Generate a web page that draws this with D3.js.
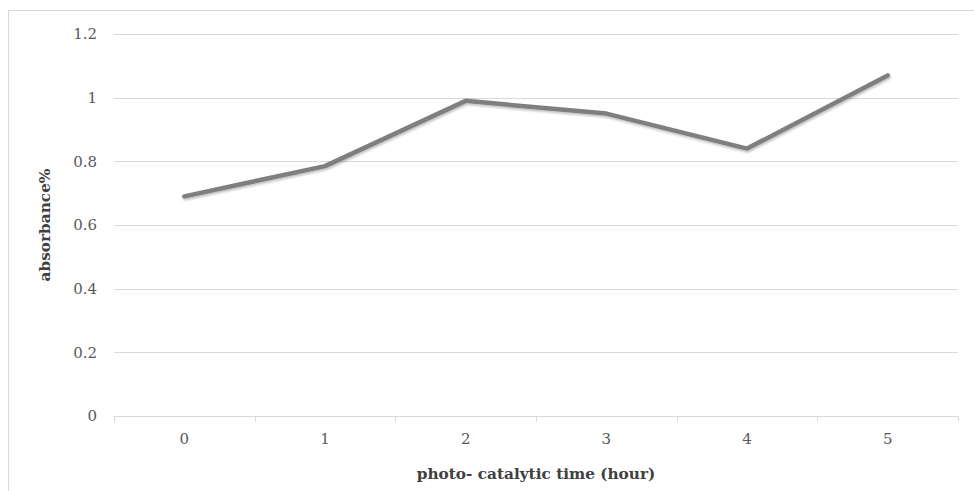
<!DOCTYPE html>
<html>
<head>
<meta charset="utf-8">
<script src="https://cdn.jsdelivr.net/npm/d3@7"></script>
<style>
  html, body { margin: 0; padding: 0; background: #fff; }
  svg { display: block; }
</style>
</head>
<body>
<svg id="chart" width="974" height="491"></svg>
<script>
// Absorbance measured over photo-catalytic time
const hours = ["0", "1", "2", "3", "4", "5"];
const absorbance = [0.69, 0.785, 0.99, 0.95, 0.84, 1.07];
const yTicks = [0, 0.2, 0.4, 0.6, 0.8, 1, 1.2];

const svg = d3.select("#chart");
const W = 974, H = 491;
const plot = { left: 114, right: 958, top: 34, bottom: 416 };
const fontFamily = "'DejaVu Serif', 'Liberation Serif', serif";

// chart frame
svg.append("rect")
  .attr("x", 8.5).attr("y", 10.5)
  .attr("width", W + 20).attr("height", H + 20)
  .attr("fill", "#fff").attr("stroke", "#d9d9d9").attr("stroke-width", 1);

const x = d3.scaleBand().domain(hours).range([plot.left, plot.right]).padding(0);
const y = d3.scaleLinear().domain([0, 1.2]).range([plot.bottom, plot.top]);

// horizontal gridlines
svg.append("g")
  .selectAll("line")
  .data(yTicks.filter(d => d > 0))
  .join("line")
  .attr("x1", plot.left).attr("x2", plot.right)
  .attr("y1", d => Math.round(y(d)) + 0.5).attr("y2", d => Math.round(y(d)) + 0.5)
  .attr("stroke", "#d9d9d9").attr("stroke-width", 1);

// y axis labels
const yAxis = d3.axisLeft(y).tickValues(yTicks).tickSize(0).tickPadding(17)
  .tickFormat(d => String(d));
const gy = svg.append("g").attr("transform", `translate(${plot.left},0)`).call(yAxis);
gy.select(".domain").remove();
gy.selectAll("text")
  .attr("font-family", fontFamily).attr("font-size", 15).attr("fill", "#595959");

// x axis with category boundary ticks
const xAxis = d3.axisBottom(x).tickSize(0).tickPadding(17);
const gx = svg.append("g").attr("transform", `translate(0,${Math.round(y(0)) + 0.5})`).call(xAxis);
gx.select(".domain").attr("stroke", "#d9d9d9").attr("d", `M${plot.left},0H${plot.right}`);
gx.selectAll("text")
  .attr("font-family", fontFamily).attr("font-size", 15).attr("fill", "#595959");
const bounds = hours.map(h => x(h)).concat([plot.right]);
gx.append("g").selectAll("line")
  .data(bounds)
  .join("line")
  .attr("x1", d => Math.round(d) + 0.5).attr("x2", d => Math.round(d) + 0.5)
  .attr("y1", 0).attr("y2", 5)
  .attr("stroke", "#d9d9d9");

// soft shadow under the line
const defs = svg.append("defs");
const f = defs.append("filter").attr("id", "shadow")
  .attr("x", "-5%").attr("y", "-20%").attr("width", "110%").attr("height", "140%");
f.append("feDropShadow").attr("dx", 0.8).attr("dy", 1.8).attr("stdDeviation", 1.2)
  .attr("flood-color", "#000").attr("flood-opacity", 0.25);

const line = d3.line()
  .x((d, i) => x(hours[i]) + x.bandwidth() / 2)
  .y(d => y(d));

svg.append("path")
  .datum(absorbance)
  .attr("d", line)
  .attr("fill", "none")
  .attr("stroke", "#7f7f7f")
  .attr("stroke-width", 4.5)
  .attr("stroke-linejoin", "round")
  .attr("stroke-linecap", "round")
  .attr("filter", "url(#shadow)");

// axis titles
svg.append("text")
  .attr("x", (plot.left + plot.right) / 2).attr("y", 479)
  .attr("text-anchor", "middle")
  .attr("font-family", fontFamily).attr("font-size", 15.3).attr("font-weight", "bold")
  .attr("fill", "#404040")
  .text("photo- catalytic time (hour)");

svg.append("text")
  .attr("transform", `translate(50,${(plot.top + plot.bottom) / 2}) rotate(-90)`)
  .attr("text-anchor", "middle")
  .attr("font-family", fontFamily).attr("font-size", 15.3).attr("font-weight", "bold")
  .attr("fill", "#404040")
  .text("absorbance%");
</script>
</body>
</html>
